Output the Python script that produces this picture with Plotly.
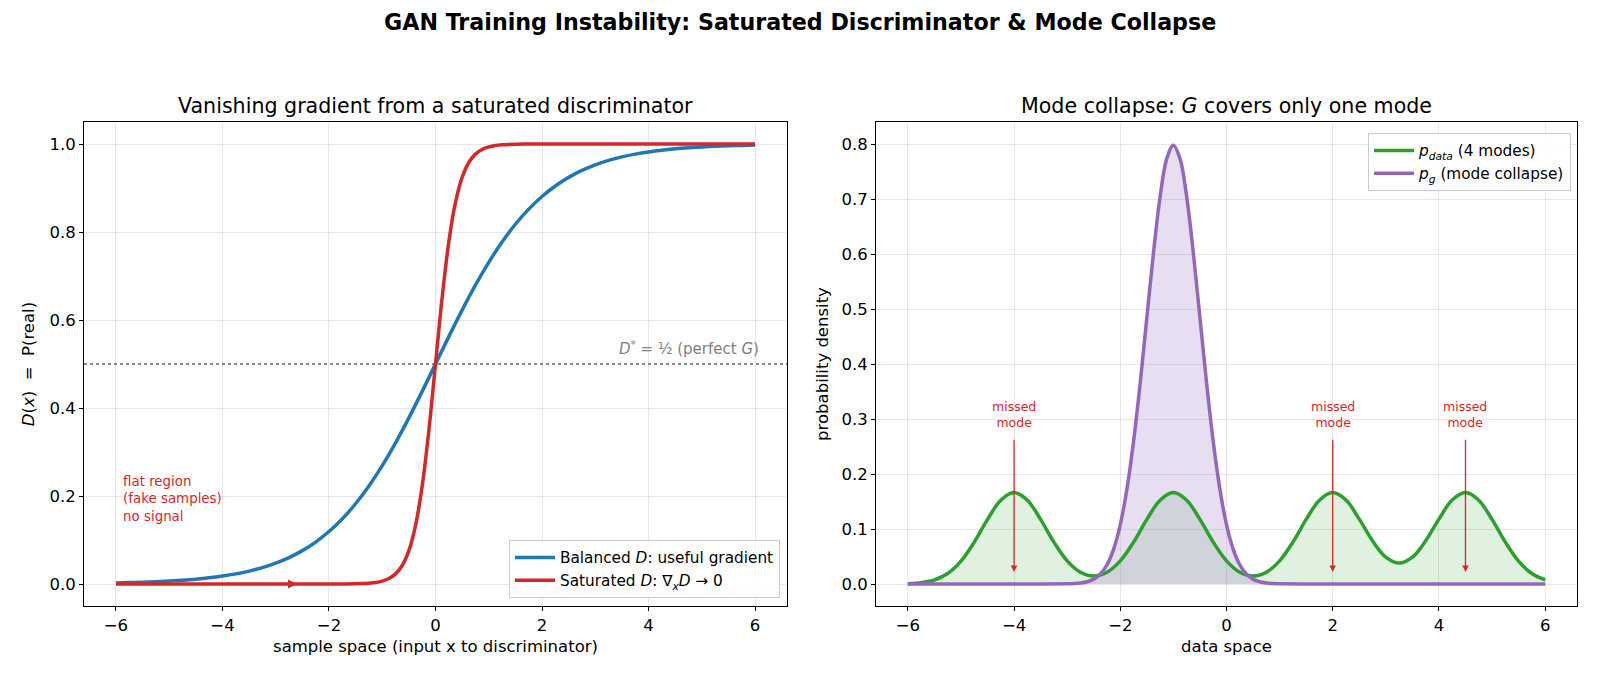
import plotly.graph_objects as go

# ---------------- data ----------------
# Left panel: discriminator outputs
x_bal = [-6, -5.75, -5.5, -5.25, -5, -4.75, -4.5, -4.25, -4, -3.75, -3.5, -3.25, -3,
         -2.75, -2.5, -2.25, -2, -1.75, -1.5, -1.25, -1, -0.75, -0.5, -0.25, 0,
         0.25, 0.5, 0.75, 1, 1.25, 1.5, 1.75, 2, 2.25, 2.5, 2.75, 3, 3.25, 3.5,
         3.75, 4, 4.25, 4.5, 4.75, 5, 5.25, 5.5, 5.75, 6]
d_bal_neg = [0.00247, 0.00317, 0.00407, 0.00522, 0.00669, 0.00858, 0.01099, 0.01406,
             0.01799, 0.02298, 0.02931, 0.03732, 0.04743, 0.06008, 0.07586, 0.09534,
             0.1192, 0.1480, 0.1824, 0.2227, 0.2689, 0.3208, 0.3775, 0.4378]
d_balanced = d_bal_neg + [0.5] + [round(1 - v, 5) for v in reversed(d_bal_neg)]

x_sat = [-6, -5, -4, -3, -2.5, -2, -1.75, -1.5, -1.375, -1.25, -1.125, -1, -0.875,
         -0.75, -0.625, -0.5, -0.375, -0.25, -0.125, 0, 0.125, 0.25, 0.375, 0.5,
         0.625, 0.75, 0.875, 1, 1.125, 1.25, 1.375, 1.5, 1.75, 2, 2.5, 3, 4, 5, 6]
d_sat_neg = [0.0, 0.0, 0.0, 0.0, 0.0, 0.00005, 0.00016, 0.00055, 0.00103, 0.00193,
             0.00359, 0.00669, 0.01242, 0.02298, 0.04208, 0.07586, 0.1329, 0.2227,
             0.3486]
d_saturated = d_sat_neg + [0.5] + [round(1 - v, 5) for v in reversed(d_sat_neg)]

# Right panel: densities
x_data = x_bal
p_data = [0.0006, 0.0024, 0.0073, 0.0190, 0.0415, 0.0761, 0.1174, 0.1524, 0.1662,
          0.1524, 0.1174, 0.0761, 0.0421, 0.0214, 0.0146, 0.0214, 0.0421, 0.0761,
          0.1174, 0.1524, 0.1662, 0.1524, 0.1174, 0.0761, 0.0421, 0.0214, 0.0146,
          0.0214, 0.0421, 0.0761, 0.1174, 0.1524, 0.1662, 0.1526, 0.1180, 0.0785,
          0.0488, 0.0380, 0.0488, 0.0785, 0.1180, 0.1526, 0.1662, 0.1524, 0.1174,
          0.0761, 0.0415, 0.0190, 0.0073]

x_g = [-6, -5, -4, -3.5, -3, -2.875, -2.75, -2.625, -2.5, -2.375, -2.25, -2.125, -2,
       -1.875, -1.75, -1.625, -1.5, -1.375, -1.25, -1.125, -1, -0.875, -0.75, -0.625,
       -0.5, -0.375, -0.25, -0.125, 0, 0.125, 0.25, 0.375, 0.5, 0.625, 0.75, 0.875, 1,
       1.5, 2, 3, 4, 5, 6]
p_g_rise = [0.00027, 0.000706, 0.00175, 0.00406, 0.00886, 0.0182, 0.0350, 0.0635,
            0.108, 0.1726, 0.259, 0.3653, 0.484, 0.6023, 0.704, 0.7734]
p_g = [0.0, 0.0, 0.0, 0.0] + p_g_rise + [0.7979] + list(reversed(p_g_rise)) + [0.0] * 6

missed_modes = [-4, 2, 4.5]

RED = "#d62728"
BLUE = "#1f77b4"
GREEN = "#2ca02c"
PURPLE = "#9467bd"
FONT = "DejaVu Sans"
LW = 3.5

fig = go.Figure()

# left
fig.add_trace(go.Scatter(x=x_bal, y=d_balanced, mode="lines",
                         line=dict(color=BLUE, width=LW, shape="spline"),
                         name="Balanced <i>D</i>: useful gradient",
                         xaxis="x", yaxis="y", legend="legend"))
fig.add_trace(go.Scatter(x=x_sat, y=d_saturated, mode="lines",
                         line=dict(color=RED, width=LW, shape="spline"),
                         name="Saturated <i>D</i>: ∇<sub><i>x</i></sub><i>D</i> → 0",
                         xaxis="x", yaxis="y", legend="legend"))

# right fills
fig.add_trace(go.Scatter(x=x_data, y=p_data, mode="lines", fill="tozeroy",
                         fillcolor="rgba(44,160,44,0.15)",
                         line=dict(width=0, shape="spline"), showlegend=False,
                         hoverinfo="skip", xaxis="x2", yaxis="y2"))
fig.add_trace(go.Scatter(x=x_g, y=p_g, mode="lines", fill="tozeroy",
                         fillcolor="rgba(148,103,189,0.22)",
                         line=dict(width=0, shape="spline"), showlegend=False,
                         hoverinfo="skip", xaxis="x2", yaxis="y2"))
fig.add_trace(go.Scatter(x=x_data, y=p_data, mode="lines",
                         line=dict(color=GREEN, width=LW, shape="spline"),
                         name="<i>p</i><sub><i>data</i></sub> (4 modes)",
                         xaxis="x2", yaxis="y2", legend="legend2"))
fig.add_trace(go.Scatter(x=x_g, y=p_g, mode="lines",
                         line=dict(color=PURPLE, width=LW, shape="spline"),
                         name="<i>p</i><sub><i>g</i></sub> (mode collapse)",
                         xaxis="x2", yaxis="y2", legend="legend2"))

annotations = []
# titles
annotations.append(dict(text="<b>GAN Training Instability: Saturated Discriminator &amp; Mode Collapse</b>",
                        x=0.5, y=0.968, xref="paper", yref="paper", showarrow=False,
                        font=dict(size=22.2, color="black", family=FONT), xanchor="center", yanchor="middle"))
annotations.append(dict(text="Vanishing gradient from a saturated discriminator",
                        x=(84 + 787) / 2 / 1600, y=0.8434, xref="paper", yref="paper", showarrow=False,
                        font=dict(size=20.6, color="black", family=FONT), xanchor="center", yanchor="middle"))
annotations.append(dict(text="Mode collapse: <i>G</i> covers only one mode",
                        x=(876 + 1577) / 2 / 1600, y=0.8434, xref="paper", yref="paper", showarrow=False,
                        font=dict(size=20.6, color="black", family=FONT), xanchor="center", yanchor="middle"))
# left annotations
annotations.append(dict(text="<i>D</i><sup>*</sup> = ½ (perfect <i>G</i>)", x=6.12, y=0.51,
                        xref="x", yref="y", showarrow=False, xanchor="right", yanchor="bottom",
                        font=dict(size=15, color="gray", family=FONT)))
annotations.append(dict(text="flat region<br>(fake samples)<br>no signal", x=-5.9, y=0.255,
                        xref="x", yref="y", showarrow=False, xanchor="left", yanchor="top", align="left",
                        font=dict(size=13.4, color=RED, family=FONT)))
annotations.append(dict(text="", x=-2.6, y=0, ax=-6, ay=0, xref="x", yref="y", axref="x", ayref="y",
                        showarrow=True, arrowhead=2, arrowsize=1, arrowwidth=1.8, arrowcolor=RED))
# right annotations
for m in missed_modes:
    annotations.append(dict(text="", x=m, y=0.022, ax=m, ay=0.265, xref="x2", yref="y2",
                            axref="x2", ayref="y2", showarrow=True, arrowhead=2, arrowsize=1,
                            arrowwidth=1.3, arrowcolor=RED))
    annotations.append(dict(text="missed<br>mode", x=m, y=0.276, xref="x2", yref="y2",
                            showarrow=False, xanchor="center", yanchor="bottom",
                            font=dict(size=12.5, color=RED, family=FONT)))

axis_common = dict(showline=True, linecolor="black", linewidth=1, mirror=True,
                   ticks="outside", ticklen=4, tickwidth=1, tickcolor="black",
                   showgrid=True, gridcolor="rgba(176,176,176,0.3)", gridwidth=1,
                   zeroline=False, tickfont=dict(size=16.5, color="black", family=FONT),
                   title_font=dict(size=16.5, color="black", family=FONT))

ydom = [1 - 606 / 677, 1 - 122 / 677]
fig.update_layout(
    width=1600, height=677,
    margin=dict(l=0, r=0, t=0, b=0),
    paper_bgcolor="white", plot_bgcolor="white",
    font=dict(family=FONT, color="black"),
    xaxis=dict(domain=[84 / 1600, 787 / 1600], range=[-6.6, 6.6], tickvals=[-6, -4, -2, 0, 2, 4, 6],
               ticktext=["−6", "−4", "−2", "0", "2", "4", "6"],
               title=dict(text="sample space (input x to discriminator)", standoff=6), anchor="y", **axis_common),
    yaxis=dict(domain=ydom, range=[-0.05, 1.05], tickvals=[0, 0.2, 0.4, 0.6, 0.8, 1.0],
               ticktext=["0.0", "0.2", "0.4", "0.6", "0.8", "1.0"],
               title=dict(text="<i>D</i>(<i>x</i>)  =  P(real)", standoff=10), anchor="x", **axis_common),
    xaxis2=dict(domain=[876 / 1600, 1577 / 1600], range=[-6.6, 6.6], tickvals=[-6, -4, -2, 0, 2, 4, 6],
                ticktext=["−6", "−4", "−2", "0", "2", "4", "6"],
                title=dict(text="data space", standoff=6), anchor="y2", **axis_common),
    yaxis2=dict(domain=ydom, range=[-0.04, 0.84], tickvals=[0, 0.1, 0.2, 0.3, 0.4, 0.5, 0.6, 0.7, 0.8],
                ticktext=["0.0", "0.1", "0.2", "0.3", "0.4", "0.5", "0.6", "0.7", "0.8"],
                title=dict(text="probability density", standoff=8), anchor="x2", **axis_common),
    legend=dict(x=780 / 1600, y=1 - 598 / 677, xanchor="right", yanchor="bottom",
                bgcolor="rgba(255,255,255,0.85)", bordercolor="#cccccc", borderwidth=1,
                itemwidth=40, font=dict(size=15.3, family=FONT, color="black")),
    legend2=dict(x=1571 / 1600, y=1 - 133 / 677, xanchor="right", yanchor="top",
                 bgcolor="rgba(255,255,255,0.85)", bordercolor="#cccccc", borderwidth=1,
                 itemwidth=40, font=dict(size=15.3, family=FONT, color="black")),
    annotations=annotations,
    shapes=[dict(type="line", xref="x domain", yref="y", x0=0, x1=1, y0=0.5, y1=0.5,
                 line=dict(color="#666666", width=1.3, dash="dot"))],
)

fig.write_html("out.html")
